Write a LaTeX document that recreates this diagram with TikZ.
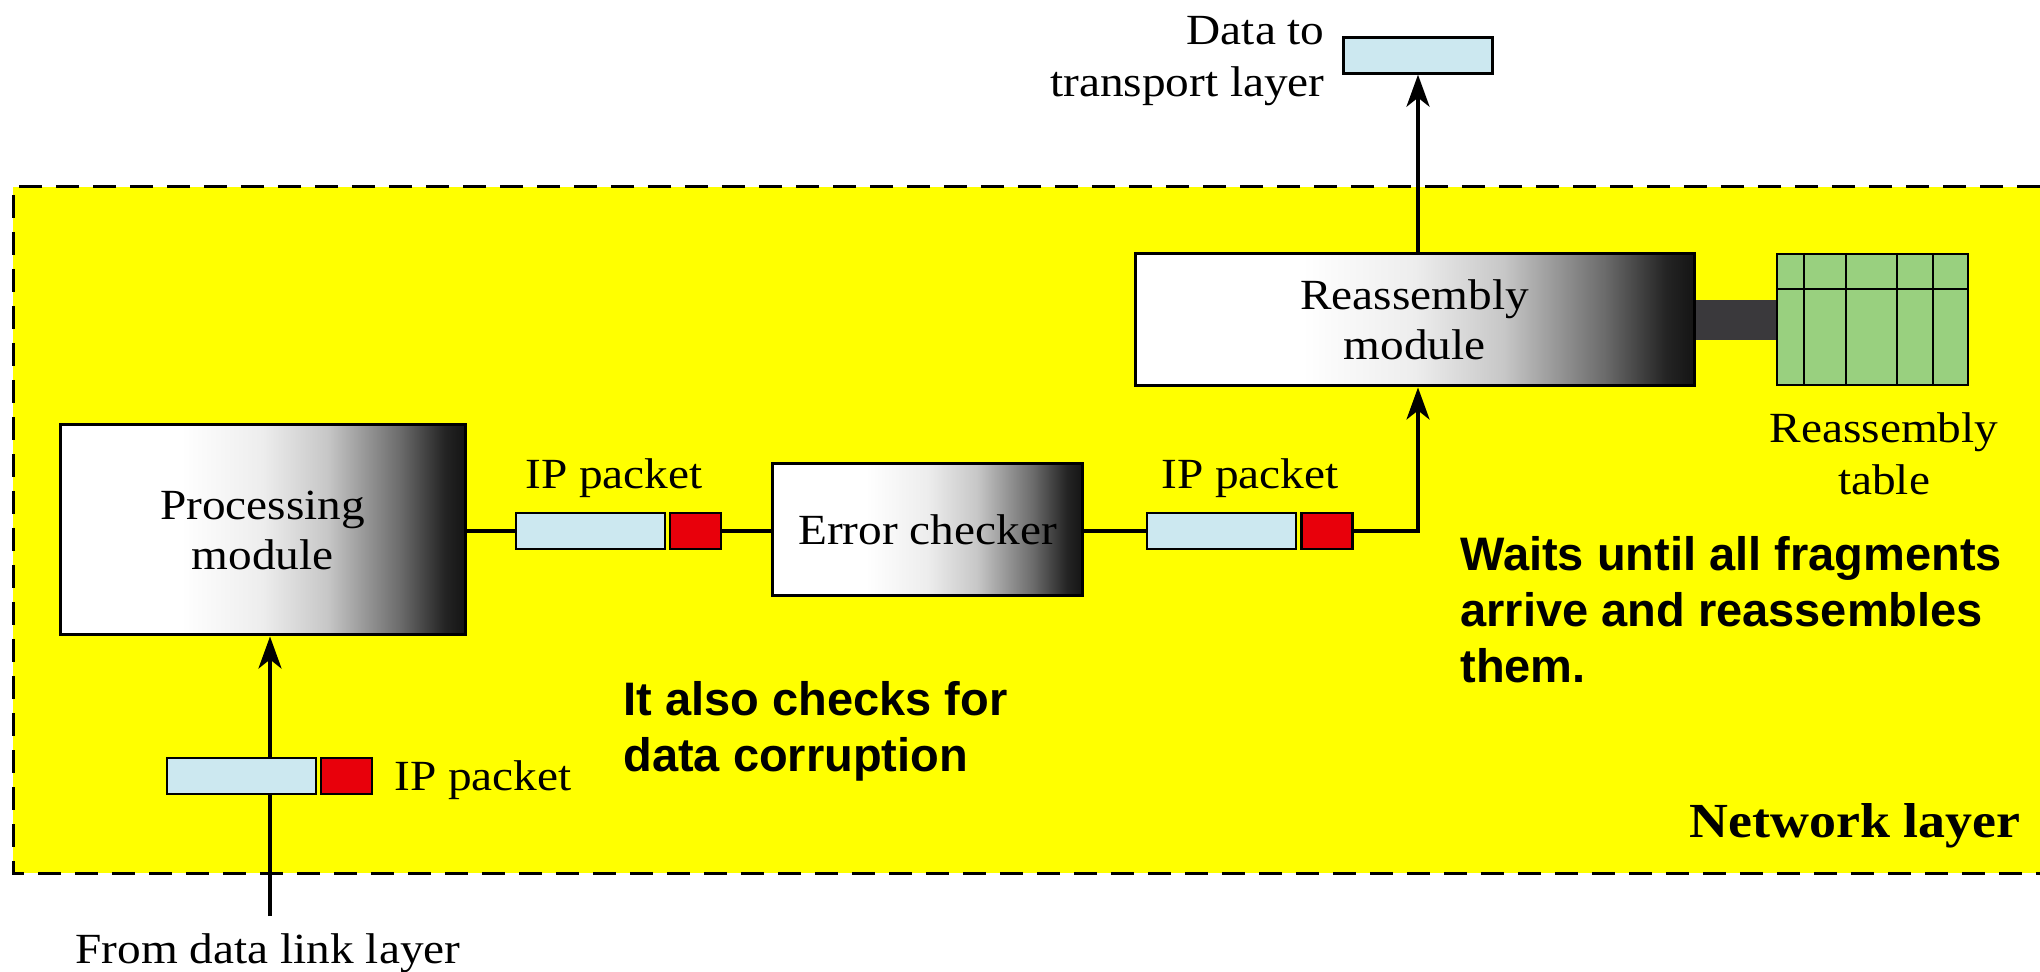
\documentclass[tikz,border=0pt]{standalone}
\usepackage{fontspec}
\setmainfont{Liberation Serif}[FakeStretch=1.1]
\newfontfamily\notefont{Liberation Sans}
\usetikzlibrary{arrows.meta}

\definecolor{layeryellow}{HTML}{FFFF00}
\definecolor{pktblue}{HTML}{CCE8F0}
\definecolor{pktred}{HTML}{E8000B}
\definecolor{tblgreen}{HTML}{99D07F}
\definecolor{linkgray}{HTML}{3A393C}

% white on the left, darkening to near black at the right edge
\pgfdeclarehorizontalshading{modgrad}{100bp}{%
  color(0bp)=(white); color(25bp)=(white); color(40bp)=(white);
  color(50bp)=(black!7); color(58bp)=(black!22); color(67bp)=(black!58);
  color(72.5bp)=(black!86); color(75bp)=(black!92); color(100bp)=(black!92)}

\begin{document}
\begin{tikzpicture}[x=0.5pt, y=-0.5pt,
  >={Stealth[length=16pt,width=11.5pt,inset=4.5pt]},
  module/.style={draw=black, line width=1.5pt, shading=modgrad, inner sep=0pt,
    align=center, font=\fontsize{21.5}{25}\selectfont},
  packet/.style={draw=black, line width=1.2pt, fill=pktblue, inner sep=0pt,
    minimum width=74.5pt, minimum height=18pt},
  trailer/.style={draw=black, line width=1.2pt, fill=pktred, inner sep=0pt,
    minimum width=25.5pt, minimum height=18pt},
  wire/.style={line width=1.9pt},
  flow/.style={wire, ->},
  txt/.style={inner sep=0pt, font=\fontsize{21.5}{26}\selectfont},
  note/.style={inner sep=0pt, align=left, anchor=west,
    font=\notefont\bfseries\fontsize{23.5}{28}\selectfont},
]
% canvas
\fill[white] (0,0) rectangle (2040,972);
\useasboundingbox (0,0) rectangle (2040,972);

% network layer region
\fill[layeryellow] (13,187) rectangle (2040,873);
\draw[line width=1.5pt, dash pattern=on 11.5pt off 7pt]
  (2040,187) -- (13,187) -- (13,873) -- (2040,873);

% link between reassembly module and its table
\node[fill=linkgray, inner sep=0pt, minimum width=41pt, minimum height=20pt] (bar) at (1735.5,320) {};

% modules
\node[module, minimum width=202.5pt, minimum height=105pt] (proc) at (262.5,530) {Processing\\module};
\node[module, minimum width=155pt, minimum height=66pt] (check) at (927.5,529.5) {Error checker};
\node[module, minimum width=279.5pt, minimum height=66pt] (reasm) at (1414.5,320) {Reassembly\\module};

% reassembly table
\node[draw=black, line width=1.2pt, fill=tblgreen, inner sep=0pt,
  minimum width=95.5pt, minimum height=65.5pt] (tbl) at (1872.5,319.5) {};
\draw[line width=1.2pt] (tbl.west |- 0,289) -- (tbl.east |- 0,289);
\foreach \cx in {1804,1846,1897,1933}
  \draw[line width=1.2pt] (\cx,0 |- tbl.north) -- (\cx,0 |- tbl.south);
\node[txt, align=center] (tbllab) at (1884,453.8) {Reassembly\\table};

% packet between processing module and error checker
\node[packet] (p1) at (590.5,531) {};
\node[trailer] (t1) at (695.5,531) {};
\node[txt, anchor=base] (p1lab) at (614,489) {IP packet};

% packet between error checker and reassembly module
\node[packet] (p2) at (1221.5,531) {};
\node[trailer] (t2) at (1327,531) {};
\node[txt, anchor=base] (p2lab) at (1250,489) {IP packet};

% data handed up to the transport layer
\coordinate (axis) at (1418,0);
\node[packet] (out) at (1418,55.5) {};
\node[txt, align=right, anchor=east] (outlab) at (1325,61.4) {Data to\\transport layer};

% connectors
\draw[wire] (proc.east |- p1.west) -- (p1.west);
\draw[wire] (t1.east) -- (check.west |- t1.east);
\draw[wire] (check.east |- p2.west) -- (p2.west);
\draw[flow] (t2.east) -| (axis |- reasm.south);
\draw[flow] (axis |- reasm.north) -- (axis |- out.south);

% incoming packet from the data link layer
\coordinate (feed) at (270,916);
\draw[flow] (feed) -- (feed |- proc.south);
\node[packet] (p0) at (241.5,776) {};
\node[trailer] (t0) at (346.5,776) {};
\node[txt, anchor=base west] (p0lab) at (394,790) {IP packet};
\node[txt, anchor=base] (srclab) at (268,963) {From data link layer};

% notes
\node[note] (note1) at (623,730.9) {It also checks for\\data corruption};
\node[note] (note2) at (1460,609.9) {Waits until all fragments\\arrive and reassembles\\them.};
\node[inner sep=0pt, anchor=base east, font=\bfseries\fontsize{24.5}{28}\selectfont] (layerlab) at (2021,837) {Network layer};
\end{tikzpicture}
\end{document}
